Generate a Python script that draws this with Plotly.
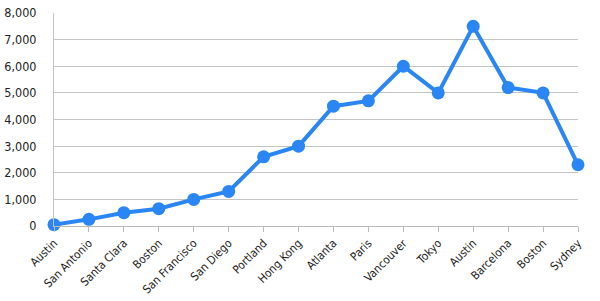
import plotly.graph_objects as go

categories = ["Austin", "San Antonio", "Santa Clara", "Boston", "San Francisco", "San Diego",
              "Portland", "Hong Kong", "Atlanta", "Paris", "Vancouver", "Tokyo", "Austin",
              "Barcelona", "Boston", "Sydney"]
values = [50, 250, 500, 650, 1000, 1300, 2600, 3000, 4500, 4700, 6000, 5000, 7500, 5200, 5000, 2300]
y_ticks = [0, 1000, 2000, 3000, 4000, 5000, 6000, 7000, 8000]

idx = list(range(len(categories)))
color = "#2a86f4"

fig = go.Figure(go.Scatter(
    x=idx, y=values, mode="lines+markers",
    line=dict(color=color, width=4),
    marker=dict(color=color, size=13),
    cliponaxis=False, hoverinfo="skip",
))

fig.update_layout(
    width=600, height=301,
    margin=dict(l=54, r=22, t=13, b=75),
    paper_bgcolor="white", plot_bgcolor="white",
    showlegend=False,
    font=dict(family="DejaVu Sans Condensed, DejaVu Sans, sans-serif", size=11.5, color="#222"),
)
fig.update_xaxes(
    tickmode="array", tickvals=idx, ticktext=categories,
    range=[0, len(categories) - 1], tickangle=-45,
    showgrid=False, showline=True, linecolor="#bbbbbb", linewidth=1,
    ticks="outside", ticklen=5, tickcolor="#bbbbbb",
    zeroline=False, automargin=False,
)
fig.update_yaxes(
    tickmode="array", tickvals=y_ticks, ticktext=[f"{v:,}" for v in y_ticks],
    range=[0, 8000],
    showgrid=True, gridcolor="#c4c4c4", gridwidth=1,
    showline=True, linecolor="#c4c4c4", linewidth=1,
    zeroline=False, ticks="", ticklabelstandoff=14,
    tickfont=dict(size=12.5), automargin=False,
)

fig.write_html("out.html")
